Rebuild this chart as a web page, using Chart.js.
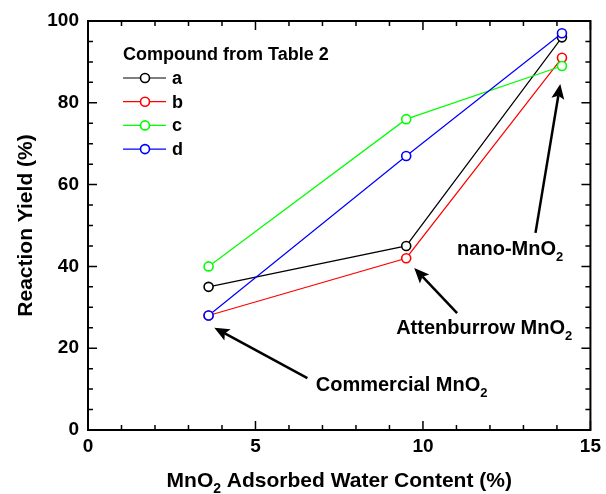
<!DOCTYPE html>
<html><head><meta charset="utf-8">
<script src="https://cdn.jsdelivr.net/npm/chart.js@4/dist/chart.umd.min.js"></script>
<style>html,body{margin:0;padding:0;background:#fff}</style>
</head><body>
<canvas id="c" width="606" height="494"></canvas>
<script>
// ---- data ----
const waterContent = [3.6, 9.5, 14.15];
const seriesNames = ['a', 'b', 'c', 'd'];
const yieldA = [35, 45, 96];
const yieldB = [28, 42, 91];
const yieldC = [40, 76, 89];
const yieldD = [28, 67, 97];
const xTickValues = [0, 5, 10, 15];
const yTickValues = [0, 20, 40, 60, 80, 100];
const legendTitle = 'Compound from Table 2';
const xTitleParts = [['MnO'], ['2', 'sub'], [' Adsorbed Water Content (%)']];
const yTitle = 'Reaction Yield (%)';

// annotation labels (arrow tip / tail in data units, text anchor in data units)
const annCommercial = { text: [['Commercial MnO'], ['2', 'sub']], tip: [3.77, 25.0], tail: [6.55, 12.7], at: [6.8, 11.3] };
const annAttenburrow = { text: [['Attenburrow MnO'], ['2', 'sub']], tip: [9.74, 39.6], tail: [11.02, 28.6], at: [9.2, 25.2] };
const annNano = { text: [['nano-MnO'], ['2', 'sub']], tip: [14.1, 84.6], tail: [13.36, 48.2], at: [11.02, 44.5] };
const annotationList = [annCommercial, annAttenburrow, annNano];

const colors = ['#000000', '#ff0000', '#00ff00', '#0000ff'];
const seriesValues = [yieldA, yieldB, yieldC, yieldD];

const FONT = '"Liberation Sans", Arial, Helvetica, sans-serif';

function drawRich(ctx, parts, x, y, size, align) {
  let w = 0;
  const subSize = Math.round(size * 0.65);
  parts.forEach(p => {
    ctx.font = 'bold ' + (p[1] === 'sub' ? subSize : size) + 'px ' + FONT;
    w += ctx.measureText(p[0]).width;
  });
  let cx = align === 'center' ? x - w / 2 : x;
  ctx.textAlign = 'left';
  ctx.textBaseline = 'alphabetic';
  parts.forEach(p => {
    const sub = p[1] === 'sub';
    ctx.font = 'bold ' + (sub ? subSize : size) + 'px ' + FONT;
    ctx.fillText(p[0], cx, y + (sub ? size * 0.3 : 0));
    cx += ctx.measureText(p[0]).width;
  });
}

function drawArrow(ctx, x1, y1, x2, y2) {
  const ang = Math.atan2(y2 - y1, x2 - x1);
  const hl = 15, hw = 6.5;
  const bx = x2 - hl * 0.8 * Math.cos(ang), by = y2 - hl * 0.8 * Math.sin(ang);
  ctx.save();
  ctx.strokeStyle = '#000'; ctx.fillStyle = '#000'; ctx.lineWidth = 2.5;
  ctx.beginPath(); ctx.moveTo(x1, y1); ctx.lineTo(bx, by); ctx.stroke();
  ctx.beginPath();
  ctx.moveTo(x2, y2);
  ctx.lineTo(x2 - hl * Math.cos(ang) + hw * Math.sin(ang), y2 - hl * Math.sin(ang) - hw * Math.cos(ang));
  ctx.lineTo(bx, by);
  ctx.lineTo(x2 - hl * Math.cos(ang) - hw * Math.sin(ang), y2 - hl * Math.sin(ang) + hw * Math.cos(ang));
  ctx.closePath(); ctx.fill();
  ctx.restore();
}

const decorPlugin = {
  id: 'decor',
  afterDraw(chart) {
    const ctx = chart.ctx, ca = chart.chartArea;
    const xs = chart.scales.x, ys = chart.scales.y;
    ctx.save();
    ctx.strokeStyle = '#000'; ctx.lineWidth = 2;
    ctx.strokeRect(ca.left, ca.top, ca.right - ca.left, ca.bottom - ca.top);
    ctx.lineWidth = 1.5;
    ctx.beginPath();
    for (let v = xs.min; v <= xs.max + 1e-9; v += 1) {
      const px = xs.getPixelForValue(v);
      const L = (v % 5 === 0) ? 9 : 5;
      ctx.moveTo(px, ca.bottom); ctx.lineTo(px, ca.bottom - L);
      ctx.moveTo(px, ca.top); ctx.lineTo(px, ca.top + L);
    }
    for (let v = ys.min; v <= ys.max + 1e-9; v += 5) {
      const py = ys.getPixelForValue(v);
      const L = (v % 20 === 0) ? 9 : 5;
      ctx.moveTo(ca.left, py); ctx.lineTo(ca.left + L, py);
      ctx.moveTo(ca.right, py); ctx.lineTo(ca.right - L, py);
    }
    ctx.stroke();

    ctx.fillStyle = '#000';
    drawRich(ctx, xTitleParts, (ca.left + ca.right) / 2, 487, 21, 'center');
    ctx.save();
    ctx.translate(32, (ca.top + ca.bottom) / 2);
    ctx.rotate(-Math.PI / 2);
    ctx.font = 'bold 21px ' + FONT;
    ctx.textAlign = 'center'; ctx.textBaseline = 'alphabetic';
    ctx.fillText(yTitle, 0, 0);
    ctx.restore();

    const lx = ca.left + 35, ly = ca.top + 34;
    ctx.font = 'bold 18px ' + FONT;
    ctx.textAlign = 'left'; ctx.textBaseline = 'middle';
    ctx.fillText(legendTitle, lx, ly);
    chart.data.datasets.forEach((ds, i) => {
      const y = ly + 23 + i * 23.7;
      ctx.strokeStyle = ds.borderColor; ctx.lineWidth = 1.2;
      ctx.beginPath(); ctx.moveTo(lx, y); ctx.lineTo(lx + 43, y); ctx.stroke();
      ctx.fillStyle = '#fff'; ctx.lineWidth = 1.6;
      ctx.beginPath(); ctx.arc(lx + 22, y, 4.5, 0, Math.PI * 2); ctx.fill(); ctx.stroke();
      ctx.fillStyle = '#000';
      ctx.font = 'bold 18px ' + FONT;
      ctx.fillText(ds.label, lx + 49, y + 1);
    });

    annotationList.forEach(a => {
      drawArrow(ctx, xs.getPixelForValue(a.tail[0]), ys.getPixelForValue(a.tail[1]),
        xs.getPixelForValue(a.tip[0]), ys.getPixelForValue(a.tip[1]));
      ctx.fillStyle = '#000';
      drawRich(ctx, a.text, xs.getPixelForValue(a.at[0]), ys.getPixelForValue(a.at[1]) + 7, 20, 'left');
    });
    ctx.restore();
  }
};

new Chart(document.getElementById('c'), {
  type: 'line',
  data: {
    datasets: seriesNames.map((n, i) => ({
      label: n,
      order: seriesNames.length - 1 - i,
      data: waterContent.map((x, j) => ({ x: x, y: seriesValues[i][j] })),
      borderColor: colors[i],
      backgroundColor: '#ffffff',
      pointBackgroundColor: '#ffffff',
      pointBorderColor: colors[i],
      borderWidth: 1.2,
      pointRadius: 4.5,
      pointBorderWidth: 1.6,
      tension: 0,
      fill: false
    }))
  },
  options: {
    responsive: false,
    animation: false,
    devicePixelRatio: 1,
    layout: { padding: { top: 21, right: 13, left: 0, bottom: 0 } },
    plugins: { legend: { display: false }, tooltip: { enabled: false } },
    scales: {
      x: {
        type: 'linear', min: 0, max: 15,
        afterBuildTicks: s => { s.ticks = xTickValues.map(v => ({ value: v })); },
        afterFit: s => { s.height = 64; },
        grid: { display: false, drawTicks: false, tickLength: 0 },
        border: { display: false },
        ticks: { color: '#000', font: { family: FONT, size: 19, weight: 'bold' }, padding: 5, maxRotation: 0 }
      },
      y: {
        type: 'linear', min: 0, max: 100,
        afterBuildTicks: s => { s.ticks = yTickValues.map(v => ({ value: v })); },
        afterFit: s => { s.width = 88; },
        grid: { display: false, drawTicks: false, tickLength: 0 },
        border: { display: false },
        ticks: { color: '#000', font: { family: FONT, size: 19, weight: 'bold' }, padding: 9 }
      }
    }
  },
  plugins: [decorPlugin]
});
</script>
</body></html>
